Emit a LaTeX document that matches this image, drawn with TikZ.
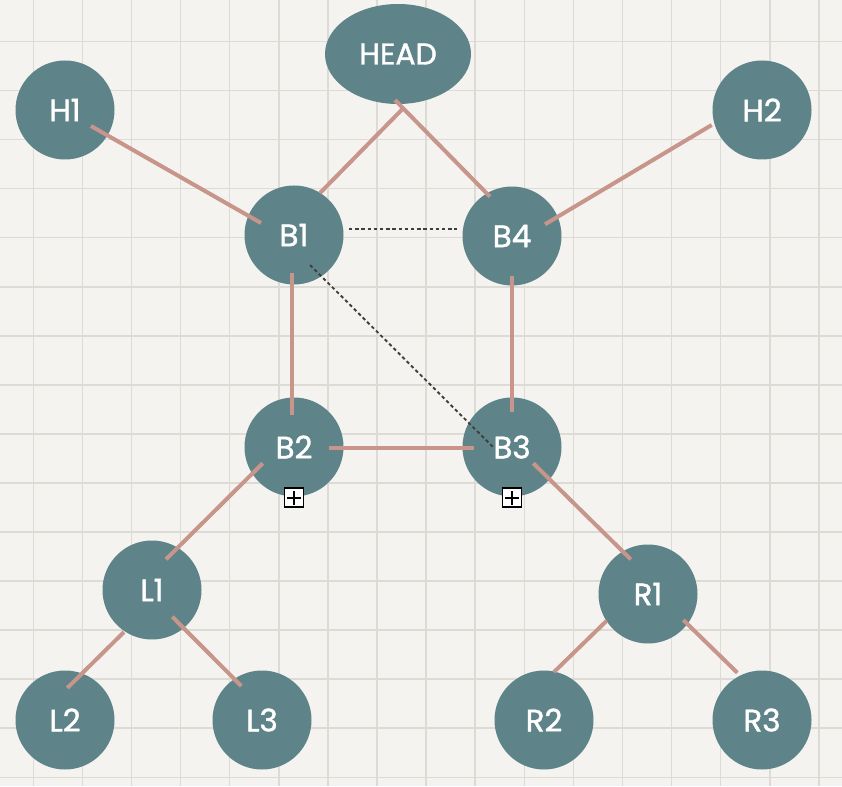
\documentclass[tikz,border=0pt]{standalone}
\usepackage{fontspec}
\setmainfont{Poppins}
\newfontfamily\nodefont{Poppins}[FakeBold=1.3]
\usetikzlibrary{shapes.geometric}
\definecolor{bg}{HTML}{F4F3EF}
\definecolor{gridc}{HTML}{DDDBD6}
\definecolor{nodec}{HTML}{5E8489}
\definecolor{edgec}{HTML}{C8958A}
\definecolor{dotc}{HTML}{3F3F3F}
\tikzset{
  tnode/.style={circle, fill=nodec, minimum size=99pt, inner sep=0pt, text=white,
    font=\nodefont\fontsize{31}{31}\selectfont},
  headnode/.style={ellipse, fill=nodec, minimum width=146pt, minimum height=100pt,
    inner sep=0pt, text=white, font=\nodefont\fontsize{30}{30}\selectfont},
  link/.style={draw=edgec, line width=4pt},
  dotlink/.style={draw=dotc, line width=1.9pt, dash pattern=on 3.4pt off 2.8pt},
  plusbox/.style={draw=black, fill=white, line width=1.8pt, minimum size=19pt, inner sep=0pt,
    path picture={
      \draw[line width=1.6pt]
        ([xshift=-7pt]path picture bounding box.center) -- ([xshift=7pt]path picture bounding box.center)
        ([yshift=-7pt]path picture bounding box.center) -- ([yshift=7pt]path picture bounding box.center);
    }},
  gridline/.style={draw=gridc, line width=1.5pt}
}
\begin{document}
\begin{tikzpicture}[x=1pt, y=-1pt]
  \fill[bg] (0,0) rectangle (842,786);
  \useasboundingbox (0,0) rectangle (842,786);
  \foreach \k in {0,...,16} {
    \draw[gridline] ({33.3+49.1*\k},0) -- ({33.3+49.1*\k},786);
  }
  \foreach \k in {0,...,15} {
    \draw[gridline] (0,{41.5+49.05*\k}) -- (842,{41.5+49.05*\k});
  }

  % nodes
  \node[headnode] (HEAD) at (398,54) {HEAD};
  \node[tnode] (H1) at (65,110) {H1};
  \node[tnode] (H2) at (762,110) {H2};
  \node[tnode] (B1) at (294,235) {B1};
  \node[tnode] (B4) at (512,236) {B4};
  \node[tnode] (B2) at (294,447) {B2};
  \node[tnode] (B3) at (512,447) {B3};
  \node[tnode] (L1) at (152,590) {L1};
  \node[tnode] (R1) at (648,594) {R1};
  \node[tnode] (L2) at (65,720) {L2};
  \node[tnode] (L3) at (262,720) {L3};
  \node[tnode] (R2) at (544,720) {R2};
  \node[tnode] (R3) at (762,720) {R3};

  \node[plusbox] (P2) at ([yshift=-1pt]B2.south) {};
  \node[plusbox] (P3) at ([yshift=-1pt]B3.south) {};

  % connectors
  \draw[link] ([shift={(26,16)}]H1.center) -- ([shift={(-33,-12)}]B1.center);
  \draw[link] ([shift={(6,53.5)}]HEAD.center) -- ([shift={(26,-42)}]B1.center);
  \draw[link] ([shift={(-3,46)}]HEAD.center) -- ([shift={(-22,-39.3)}]B4.center);
  \draw[link] ([shift={(-2.3,38.3)}]B1.center) -- ([shift={(-2.3,-32)}]B2.center);
  \draw[link] ([shift={(0,40)}]B4.center) -- ([shift={(0,-35.3)}]B3.center);
  \draw[link] ([shift={(35,0.7)}]B2.center) -- ([shift={(-37.7,0.7)}]B3.center);
  \draw[link] ([shift={(33,-11.7)}]B4.center) -- ([shift={(-50.3,15)}]H2.center);
  \draw[link] ([shift={(-31.3,16.3)}]B2.center) -- ([shift={(14,-30.7)}]L1.center);
  \draw[link] ([shift={(-28,42)}]L1.center) -- ([shift={(2.3,-32)}]L2.center);
  \draw[link] ([shift={(20.3,26.7)}]L1.center) -- ([shift={(-20.7,-34)}]L3.center);
  \draw[link] ([shift={(21.3,16.3)}]B3.center) -- ([shift={(-17.3,-34.7)}]R1.center);
  \draw[link] ([shift={(-41.3,26.7)}]R1.center) -- ([shift={(10,-48)}]R2.center);
  \draw[link] ([shift={(35.3,26)}]R1.center) -- ([shift={(-24.7,-47.3)}]R3.center);

  \draw[dotlink] ([shift={(55,-6)}]B1.center) -- ([shift={(-55,-7)}]B4.center);
  \draw[dotlink] ([shift={(16,30)}]B1.center) -- ([shift={(-19,0)}]B3.center);
\end{tikzpicture}
\end{document}
